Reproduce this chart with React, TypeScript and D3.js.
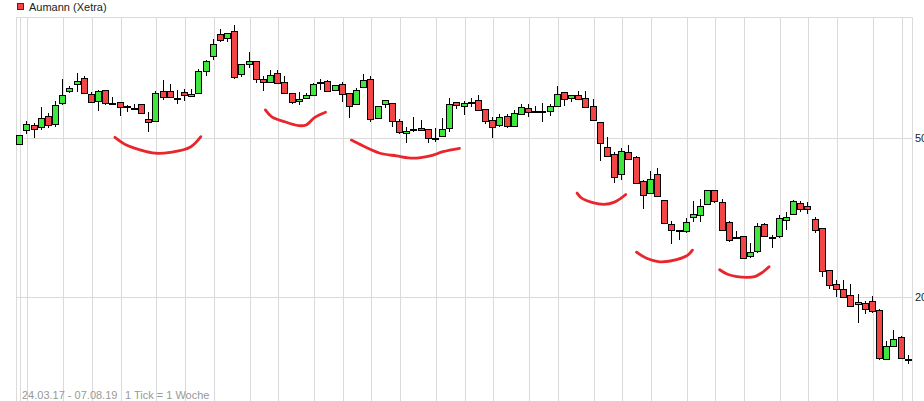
import React from 'react';
import * as d3 from 'd3';

// weekly candles, Aumann (Xetra), 24.03.17 - 07.08.19
const weeks = d3.timeMonday.range(new Date(2017, 2, 20), new Date(2019, 7, 6));

const open = [48.3, 52.4, 54.0, 53.2, 56.7, 54.1, 61.1, 65.4, 68.1, 70.5,
  64.5, 61.8, 65.8, 61.2, 61.4, 60.0, 59.6, 60.7, 55.8, 55.1,
  65.5, 65.5, 63.1, 65.1, 63.6, 64.7, 73.4, 80.2, 91.0, 88.8,
  92.5, 72.3, 76.5, 77.8, 70.1, 68.9, 72.6, 68.9, 64.7, 61.8,
  62.8, 63.9, 68.7, 69.3, 65.8, 68.1, 64.7, 60.7, 67.0, 70.1,
  56.0, 60.7, 61.1, 55.1, 51.4, 52.8, 52.9, 52.6, 50.1, 50.5,
  52.9, 61.4, 60.0, 61.5, 62.1, 59.0, 55.4, 53.8, 56.7, 53.7,
  57.3, 59.3, 58.3, 58.1, 58.3, 60.0, 65.1, 62.8, 63.9, 62.8,
  60.0, 54.7, 47.4, 45.5, 40.6, 46.0, 44.7, 39.0, 36.4, 40.6,
  34.9, 30.4, 29.4, 29.2, 31.8, 32.0, 34.1, 37.0, 34.5, 30.9,
  28.2, 28.4, 25.3, 26.0, 30.5, 28.2, 28.4, 31.1, 32.2, 34.3,
  33.7, 31.3, 29.7, 23.3, 21.6, 21.0, 20.2, 19.2, 19.3, 19.5,
  18.6, 14.0, 15.1, 15.9, 14.0];

const high = [50.9, 55.1, 54.5, 59.7, 57.6, 61.9, 70.2, 67.5, 72.8, 71.5,
  65.3, 65.9, 65.9, 63.4, 61.4, 60.5, 60.7, 60.8, 58.0, 65.7,
  69.8, 68.3, 65.9, 66.2, 66.2, 74.4, 78.4, 88.3, 93.5, 91.6,
  95.9, 76.8, 82.1, 78.0, 71.5, 74.0, 74.0, 71.5, 64.9, 65.1,
  64.7, 68.7, 70.1, 69.8, 67.9, 68.9, 64.9, 66.6, 72.3, 71.4,
  60.2, 62.3, 61.3, 55.8, 53.4, 56.5, 55.5, 52.8, 52.9, 56.2,
  62.8, 61.6, 61.8, 62.8, 63.9, 59.2, 56.3, 57.3, 57.3, 58.7,
  60.7, 60.7, 60.0, 61.1, 60.7, 67.4, 65.3, 64.1, 65.4, 65.4,
  62.5, 54.9, 50.3, 46.2, 47.1, 48.0, 45.2, 39.2, 41.3, 42.0,
  35.0, 31.0, 29.5, 31.5, 34.7, 35.1, 37.1, 37.1, 35.1, 31.0,
  29.2, 28.5, 27.3, 30.6, 30.6, 28.6, 32.1, 32.6, 35.0, 34.8,
  34.5, 31.7, 29.8, 23.4, 22.1, 22.1, 21.5, 20.3, 19.5, 20.1,
  18.7, 15.5, 16.5, 16.0, 14.3];

const low = [48.3, 51.2, 50.0, 52.4, 53.1, 53.4, 60.5, 64.9, 65.3, 64.3,
  61.1, 58.5, 60.5, 60.5, 56.9, 58.2, 59.3, 57.5, 51.9, 54.7,
  62.2, 63.0, 60.7, 61.8, 63.4, 64.5, 71.5, 78.4, 87.1, 87.1,
  70.1, 70.9, 75.0, 68.8, 65.7, 68.7, 68.5, 64.3, 60.7, 60.4,
  62.6, 63.7, 65.9, 65.3, 65.6, 61.4, 56.2, 60.5, 66.8, 54.7,
  55.8, 59.3, 53.2, 51.1, 48.7, 51.7, 52.0, 48.7, 48.9, 50.3,
  51.7, 59.0, 57.0, 59.9, 58.5, 54.1, 49.9, 53.3, 52.9, 53.5,
  57.1, 56.3, 57.6, 54.7, 56.7, 59.8, 60.0, 61.4, 62.3, 59.5,
  55.2, 43.9, 45.0, 38.6, 39.3, 44.0, 38.3, 33.2, 36.2, 35.5,
  30.5, 27.2, 27.7, 29.0, 30.9, 30.8, 33.9, 34.3, 29.3, 27.4,
  28.0, 24.9, 25.0, 25.8, 28.4, 26.5, 28.1, 29.5, 32.0, 32.6,
  32.2, 28.9, 22.5, 21.0, 20.0, 19.9, 18.9, 17.2, 18.1, 18.2,
  13.9, 13.9, 15.0, 14.0, 13.6];

const close = [50.9, 54.1, 52.6, 56.1, 53.8, 60.4, 63.9, 66.6, 69.3, 64.7,
  61.4, 65.5, 61.1, 61.0, 59.7, 59.8, 59.4, 57.6, 54.7, 64.7,
  63.2, 63.2, 63.0, 63.9, 64.3, 73.6, 77.8, 85.9, 87.8, 91.4,
  70.9, 76.5, 77.8, 70.1, 68.9, 71.8, 68.7, 64.7, 61.4, 62.6,
  63.9, 68.1, 68.9, 65.5, 67.7, 64.3, 60.0, 65.8, 69.7, 55.8,
  60.0, 62.1, 55.1, 51.7, 52.0, 52.7, 52.3, 49.9, 50.0, 52.6,
  60.7, 60.4, 61.1, 61.7, 58.7, 55.1, 53.2, 56.3, 53.5, 57.6,
  59.7, 58.0, 58.1, 58.3, 60.0, 64.3, 62.5, 63.9, 62.5, 59.7,
  55.4, 48.5, 45.2, 39.9, 46.3, 44.2, 38.5, 35.9, 39.4, 35.7,
  30.6, 29.4, 29.3, 30.9, 32.2, 33.7, 37.0, 34.7, 29.5, 27.7,
  28.1, 25.0, 25.9, 30.1, 28.5, 28.1, 31.5, 31.8, 34.7, 33.3,
  33.2, 29.4, 23.2, 21.4, 20.9, 20.0, 19.0, 19.4, 18.7, 18.5,
  14.1, 15.1, 15.7, 14.1, 14.0];

const yTicks = [20, 50];

// hand drawn red arcs: [week index, price]
const arcs: [number, number][][] = [
  [[13.2, 50.2], [14.8, 48.0], [16.7, 46.7], [18.8, 45.8], [20.9, 46.0], [23.7, 47.4], [25.2, 50.4]],
  [[34.2, 58.8], [35.1, 56.5], [36.9, 54.9], [38.8, 53.7], [39.9, 53.9], [41.1, 56.3], [42.6, 58.0]],
  [[46.2, 49.4], [47.8, 47.8], [50.2, 45.8], [52.5, 45.1], [54.8, 44.5], [57.2, 45.1], [59.0, 46.2], [61.3, 47.1]],
  [[77.7, 36.4], [78.5, 35.2], [81.4, 34.1], [83.0, 34.6], [84.5, 36.1]],
  [[86.0, 25.9], [87.4, 25.0], [89.2, 24.5], [91.6, 24.8], [93.2, 25.5], [93.8, 26.2]],
  [[97.6, 23.4], [98.7, 22.8], [100.0, 22.5], [101.4, 22.4], [102.5, 22.5], [103.5, 23.0], [104.5, 23.8]],
];

const W = 924;
const H = 401;
const left = 16.5;
const right = 912.5;
const top = 17.5;
const RED = '#f24545';
const GREEN = '#3ee63e';
const GRID = '#dadada';

export default function App() {
  const x = d3.scaleLinear().domain([0, weeks.length - 1]).range([20.3, 908.8]);
  const y = d3.scaleLog().domain([20, 50]).range([297, 138]);

  // gridline at first candle and at each week that contains the 1st of a month
  const monthLines = weeks
    .map((w, i) => ({ w, i }))
    .filter(({ w, i }) => i === 0 || d3.timeDay.offset(w, 6).getDate() <= 7)
    .map(d => d.i);

  const arcLine = d3.line<[number, number]>()
    .x(d => x(d[0]))
    .y(d => y(d[1]))
    .curve(d3.curveCatmullRom);

  const px = (v: number) => Math.round(v) + 0.5;

  return (
    <div style={{ position: 'absolute', left: 0, top: 0 }}>
      <svg width={W} height={H} style={{ display: 'block', fontFamily: '"Liberation Sans", Arial, sans-serif' }}>
        <rect x={0} y={0} width={W} height={H} fill="#fff" />
        {monthLines.map(i => (
          <line key={'v' + i} x1={px(x(i))} x2={px(x(i))} y1={top} y2={H} stroke={GRID} strokeWidth={1} />
        ))}
        {yTicks.map(t => (
          <line key={'h' + t} x1={left} x2={right} y1={px(y(t))} y2={px(y(t))} stroke={GRID} strokeWidth={1} />
        ))}
        <line x1={left} x2={right} y1={top} y2={top} stroke={GRID} />
        <line x1={left} x2={left} y1={top} y2={H} stroke={GRID} />
        <line x1={right} x2={right} y1={top} y2={H} stroke={GRID} />
        {yTicks.map(t => (
          <text key={'l' + t} x={915} y={y(t) + 4} fontSize={11} fill="#222">{t}</text>
        ))}

        {weeks.map((w, i) => {
          const cx = Math.round(x(i));
          const o = y(open[i]);
          const c = y(close[i]);
          const up = close[i] >= open[i];
          const t0 = Math.round(Math.min(o, c)) + 0.5;
          const b0 = Math.round(Math.max(o, c)) + 0.5;
          return (
            <g key={i}>
              <line x1={cx - 0.5} x2={cx - 0.5} y1={Math.round(y(high[i]))} y2={Math.round(y(low[i]))}
                stroke="#000" strokeWidth={1} />
              <rect x={cx - 3.5} y={t0} width={6} height={Math.max(b0 - t0, 1)}
                fill={up ? GREEN : RED} stroke="#000" strokeWidth={1} />
            </g>
          );
        })}

        {arcs.map((a, k) => (
          <path key={'a' + k} d={arcLine(a) ?? ''} fill="none" stroke="#e8262b" strokeWidth={2.8}
            strokeLinecap="round" strokeLinejoin="round" />
        ))}

        <rect x={17.5} y={3.5} width={6} height={6} fill={RED} stroke="#333" strokeWidth={1} />
        <text x={29} y={11} fontSize={11} fill="#222">Aumann (Xetra)</text>
        <text x={22} y={399} fontSize={11} fill="#999">24.03.17 - 07.08.19</text>
        <text x={125} y={399} fontSize={11} fill="#999">1 Tick = 1 Woche</text>
      </svg>
    </div>
  );
}
